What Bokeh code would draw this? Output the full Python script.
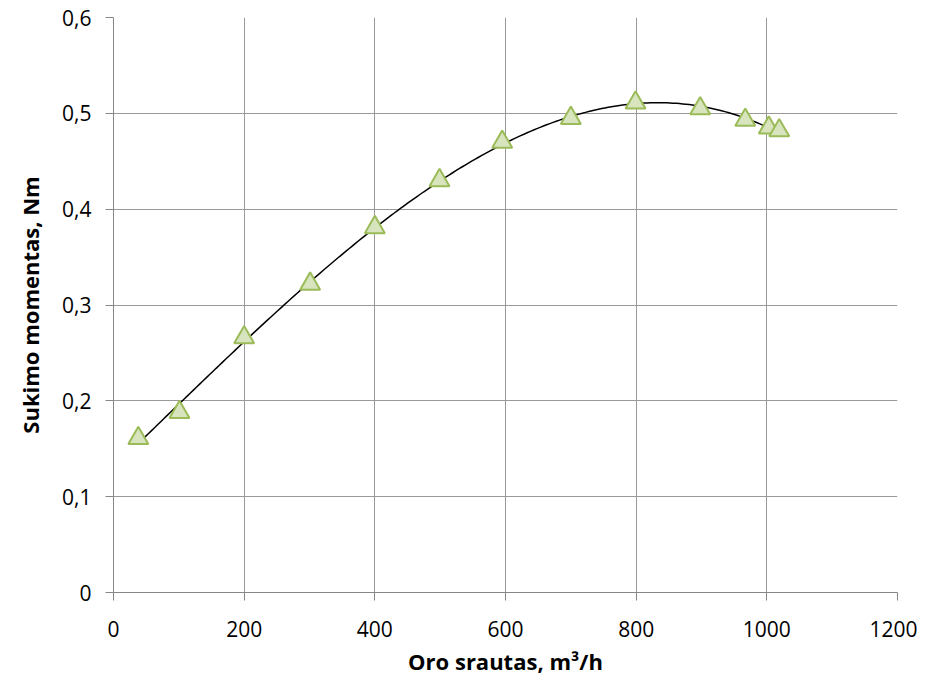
import numpy as np
from bokeh.plotting import figure
from bokeh.models import FixedTicker, CustomJSTickFormatter, Range1d
from bokeh.embed import file_html
from bokeh.resources import INLINE

flow = [38, 101, 200, 301, 400, 499, 595, 700, 799, 898, 967, 1003, 1019]
torque = [0.161, 0.188, 0.266, 0.322, 0.381, 0.430, 0.470, 0.495, 0.511, 0.505, 0.493, 0.485, 0.482]
x_ticks = [0, 200, 400, 600, 800, 1000, 1200]
y_ticks = [0, 0.1, 0.2, 0.3, 0.4, 0.5, 0.6]

# polynomial trendline fitted to the measured points
coef = np.polyfit(flow, torque, 3)
xs = np.linspace(min(flow), 1025, 200)
ys = np.polyval(coef, xs)

p = figure(width=917, height=679, output_backend="svg", toolbar_location=None,
           x_range=Range1d(0, 1200), y_range=Range1d(0, 0.6),
           min_border_left=113, min_border_right=20, min_border_top=17, min_border_bottom=87)
p.outline_line_color = None

p.line(xs, ys, line_color="black", line_width=1.5)
p.scatter(flow, torque, marker="triangle", size=20, fill_color="#d7e4bd",
          line_color="#9bbb59", line_width=2)

fmt = CustomJSTickFormatter(code="return tick == 0 ? '0' : tick.toFixed(1).replace('.', ',');")
p.xaxis.ticker = FixedTicker(ticks=x_ticks)
p.yaxis.ticker = FixedTicker(ticks=y_ticks)
p.yaxis.formatter = fmt

for ax in (p.xaxis, p.yaxis):
    ax.axis_line_color = "#868686"
    ax.major_tick_line_color = "#868686"
    ax.major_tick_out = 8
    ax.major_tick_in = 0
    ax.minor_tick_line_color = None
    ax.major_label_text_font = "Open Sans"
    ax.major_label_text_font_size = "21px"
    ax.major_label_text_color = "black"
    ax.axis_label_text_font = "Open Sans"
    ax.axis_label_text_font_size = "22px"
    ax.axis_label_text_font_style = "bold"
    ax.axis_label_text_color = "black"

p.xaxis.axis_label = "Oro srautas, m³/h"
p.yaxis.axis_label = "Sukimo momentas, Nm"
p.xaxis.major_label_standoff = 20
p.yaxis.major_label_standoff = 14
p.xaxis.axis_label_standoff = 6
p.yaxis.axis_label_standoff = 14

p.grid.grid_line_color = "#999999"
p.grid.grid_line_width = 1

open("out.html", "w").write(file_html(p, INLINE))
